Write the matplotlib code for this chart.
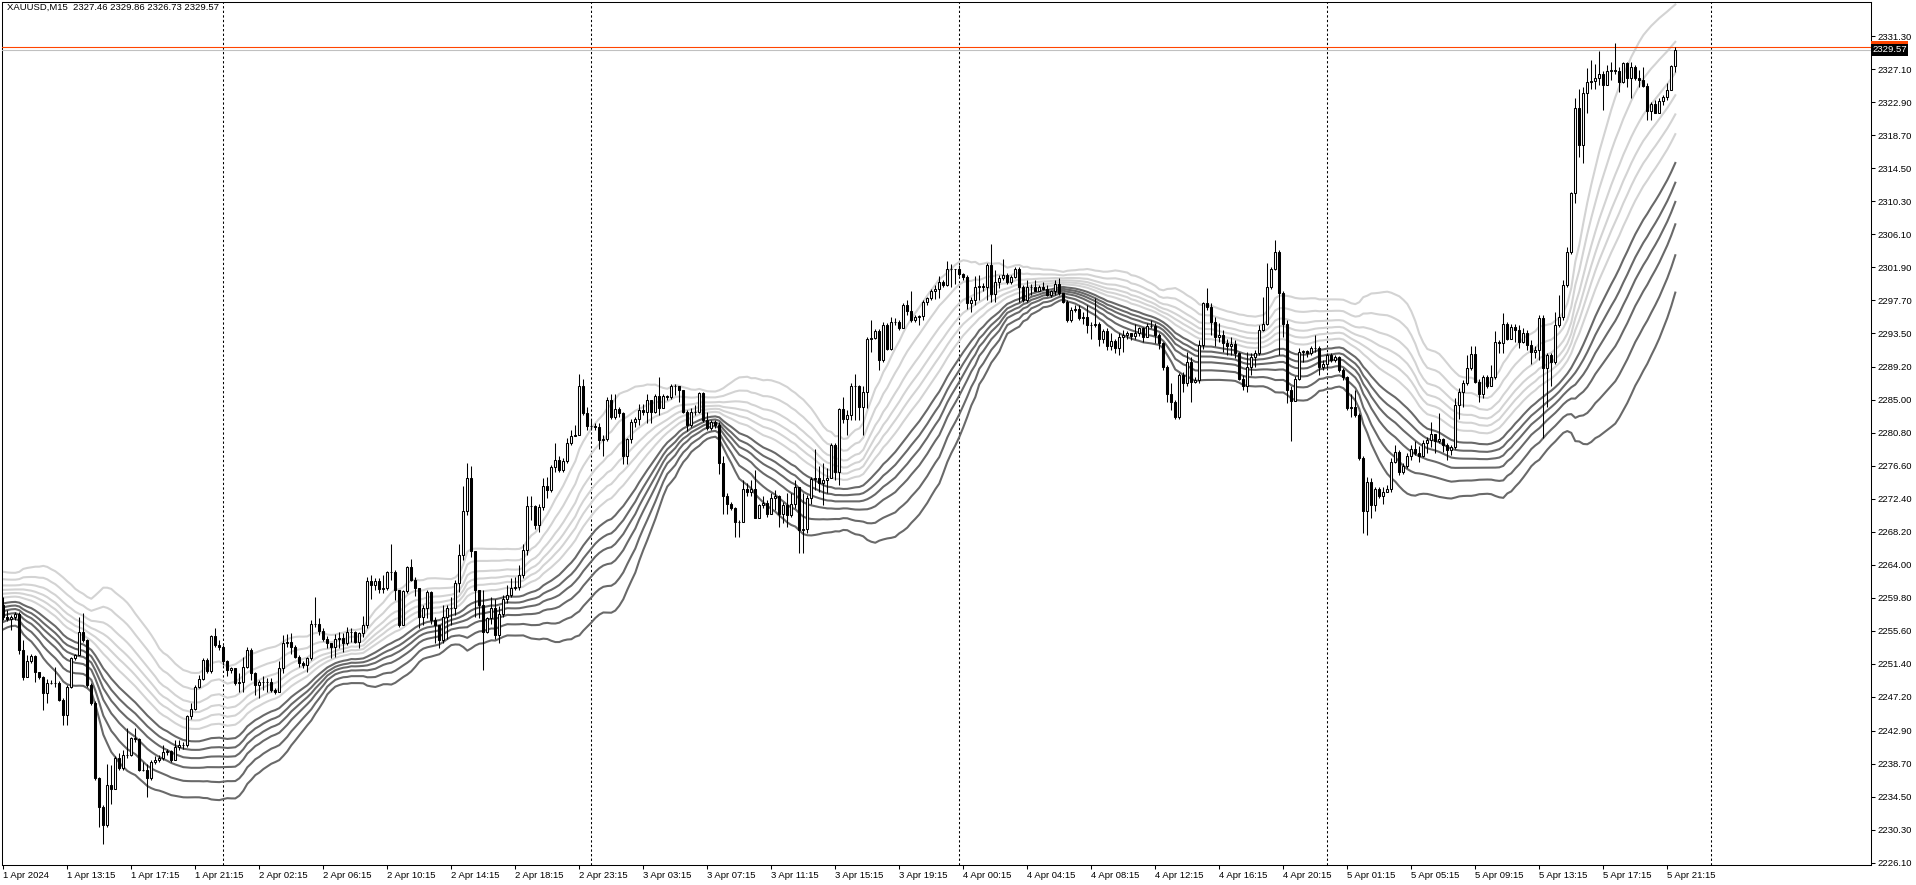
import matplotlib

matplotlib.use("Agg")
import matplotlib.pyplot as plt  # noqa: E402
import matplotlib.transforms as mtrans  # noqa: E402
import numpy as np  # noqa: E402
import pandas as pd  # noqa: E402

plt.rcParams["font.family"] = ["Liberation Sans", "DejaVu Sans"]

TITLE = "XAUUSD,M15  2327.46 2329.86 2326.73 2329.57"

# XAUUSD M15, 1 Apr 09:15 .. 5 Apr 21:45 (one value per bar)
first_open = 2258.9
close = [
    2257.3, 2257.05, 2257.3, 2257.7, 2253.15, 2249.75, 2251.8, 2252.4, 2250.4, 2249.7,
    2247.7, 2248.9, 2249.0, 2249.0, 2246.8, 2244.9, 2248.5, 2252.1, 2252.5, 2255.5,
    2254.4, 2248.7, 2246.4, 2236.8, 2233.2, 2230.9, 2236.0, 2235.5, 2239.4, 2238.1,
    2239.8, 2239.8, 2241.9, 2241.8, 2237.9, 2237.9, 2236.8, 2238.9, 2239.1, 2239.4,
    2240.2, 2240.3, 2239.1, 2240.8, 2241.1, 2241.1, 2244.7, 2245.6, 2248.5, 2249.4,
    2251.9, 2250.5, 2254.9, 2253.8, 2253.6, 2251.7, 2250.6, 2250.8, 2248.9, 2249.1,
    2251.0, 2253.15, 2250.2, 2248.7, 2249.1, 2249.1, 2249.1, 2248.1, 2247.85, 2250.8,
    2254.1, 2254.2, 2253.6, 2252.2, 2251.5, 2251.2, 2252.1, 2256.5, 2256.5, 2255.6,
    2254.5, 2254.0, 2253.5, 2254.6, 2254.7, 2254.1, 2255.4, 2255.5, 2254.2, 2255.3,
    2256.3, 2262.0, 2261.4, 2261.9, 2260.9, 2261.1, 2263.1, 2263.1, 2260.8, 2256.3,
    2260.7, 2263.7, 2262.1, 2261.0, 2257.4, 2258.45, 2260.6, 2257.0, 2256.3, 2254.4,
    2257.4, 2258.45, 2258.45, 2261.7, 2265.3, 2270.8, 2275.1, 2265.7, 2260.8, 2258.9,
    2255.5, 2257.2, 2258.45, 2255.1, 2257.8, 2259.7, 2260.15, 2261.1, 2261.2, 2262.7,
    2265.9, 2271.5, 2271.5, 2269.1, 2271.4, 2274.0, 2273.5, 2276.4, 2277.3, 2276.1,
    2277.2, 2279.45, 2280.4, 2280.5, 2286.75, 2283.3, 2281.7, 2281.7, 2281.5, 2279.9,
    2279.95, 2285.0, 2282.85, 2283.8, 2283.3, 2277.8, 2279.95, 2282.2, 2282.5, 2283.7,
    2283.4, 2285.0, 2283.5, 2285.5, 2284.0, 2285.5, 2285.3, 2286.75, 2286.75, 2286.2,
    2283.5, 2281.8, 2283.5, 2283.5, 2285.9, 2282.4, 2281.4, 2282.2, 2281.8, 2276.9,
    2272.7, 2271.8, 2271.2, 2269.5, 2269.4, 2273.6, 2273.3, 2273.7, 2270.0, 2271.6,
    2271.9, 2270.5, 2272.45, 2272.7, 2270.5, 2271.6, 2270.3, 2271.8, 2273.85, 2268.4,
    2268.6, 2272.45, 2274.9, 2275.0, 2274.45, 2274.8, 2275.0, 2279.2, 2275.85, 2283.8,
    2282.6, 2283.1, 2286.7, 2286.7, 2284.1, 2286.0, 2292.8, 2292.9, 2293.8, 2290.1,
    2294.5, 2291.5, 2294.9, 2294.9, 2294.2, 2297.1, 2296.3, 2295.2, 2295.6, 2295.7,
    2297.5, 2297.9, 2298.9, 2299.05, 2300.0, 2299.6, 2301.6, 2301.6, 2301.6, 2301.0,
    2300.6, 2297.35, 2297.7, 2299.4, 2299.5, 2299.4, 2302.15, 2298.5, 2300.0, 2300.5,
    2300.9, 2300.0, 2300.6, 2301.7, 2299.4, 2297.7, 2299.4, 2299.4, 2298.9, 2299.4,
    2299.1, 2298.3, 2298.8, 2299.8, 2298.6, 2297.5, 2295.15, 2296.4, 2296.6, 2295.4,
    2295.5, 2294.5, 2294.5, 2294.6, 2292.8, 2293.7, 2291.8, 2292.5, 2291.55, 2292.95,
    2293.2, 2293.45, 2293.1, 2293.5, 2294.1, 2292.95, 2294.4, 2294.4, 2293.2, 2292.2,
    2289.2, 2285.8, 2284.75, 2282.85, 2288.15, 2287.1, 2289.85, 2287.3, 2287.5, 2292.0,
    2297.3, 2296.85, 2294.95, 2292.95, 2293.25, 2292.2, 2291.85, 2292.1, 2291.0, 2287.7,
    2286.7, 2289.2, 2290.5, 2290.9, 2293.9, 2294.7, 2299.3, 2301.7, 2303.85, 2298.55,
    2294.7, 2286.25, 2284.8, 2287.7, 2291.1, 2291.25, 2290.9, 2291.55, 2291.55, 2289.2,
    2289.6, 2290.7, 2290.1, 2290.4, 2288.8, 2287.9, 2283.9, 2284.1, 2283.1, 2277.55,
    2270.8, 2274.6, 2271.6, 2273.7, 2272.7, 2273.3, 2273.6, 2277.1, 2278.4, 2275.85,
    2276.6, 2277.85, 2278.8, 2278.2, 2277.85, 2279.5, 2279.9, 2280.7, 2279.7, 2280.0,
    2279.25, 2278.6, 2279.0, 2284.3, 2286.0, 2287.1, 2289.0, 2290.8, 2287.3, 2285.8,
    2287.9, 2286.7, 2287.9, 2292.4, 2292.2, 2294.7, 2292.8, 2294.3, 2293.9, 2292.4,
    2293.45, 2292.0, 2291.1, 2291.3, 2295.4, 2289.0, 2290.7, 2289.85, 2294.5, 2295.6,
    2299.6, 2303.8, 2311.3, 2322.1, 2317.4, 2324.0, 2325.5, 2325.6, 2326.0, 2326.5,
    2325.1, 2326.8, 2327.0, 2326.8, 2325.5, 2327.9, 2326.0, 2327.4, 2325.9, 2325.7,
    2324.9, 2321.8, 2322.7, 2321.5, 2323.0, 2323.6, 2324.4, 2327.46, 2329.57,
]
high = [
    2259.9, 2258.2, 2257.6, 2258.0, 2258.0, 2254.4, 2252.5, 2252.7, 2252.5, 2250.2,
    2249.8, 2249.5, 2249.3, 2251.0, 2249.2, 2247.0, 2248.7, 2252.3, 2252.7, 2257.3,
    2257.9, 2254.5, 2248.9, 2246.6, 2237.0, 2233.4, 2238.7, 2238.5, 2239.6, 2240.0,
    2240.4, 2243.2, 2242.1, 2243.2, 2241.9, 2238.9, 2238.7, 2239.1, 2239.6, 2239.8,
    2241.1, 2240.6, 2240.4, 2241.7, 2241.7, 2241.5, 2244.9, 2246.4, 2248.7, 2250.0,
    2252.1, 2252.1, 2255.1, 2256.0, 2254.4, 2253.8, 2251.9, 2251.0, 2250.6, 2250.2,
    2252.3, 2253.6, 2253.4, 2250.4, 2249.3, 2249.8, 2249.6, 2249.6, 2248.3, 2251.7,
    2255.1, 2255.2, 2255.3, 2253.8, 2252.5, 2251.7, 2252.3, 2257.0, 2259.9, 2257.2,
    2255.9, 2254.9, 2254.0, 2255.2, 2255.4, 2255.3, 2256.1, 2255.9, 2255.6, 2255.5,
    2257.5, 2262.5, 2262.7, 2262.3, 2262.3, 2262.7, 2263.2, 2266.7, 2263.3, 2260.8,
    2260.8, 2263.8, 2264.7, 2262.5, 2261.0, 2258.9, 2260.8, 2260.7, 2257.4, 2256.3,
    2258.9, 2258.9, 2259.9, 2262.1, 2266.7, 2274.0, 2276.9, 2276.6, 2265.5, 2260.8,
    2260.8, 2257.4, 2259.9, 2259.7, 2258.7, 2260.15, 2261.4, 2262.3, 2262.5, 2264.0,
    2266.7, 2272.7, 2272.7, 2271.6, 2271.8, 2275.0, 2275.2, 2276.7, 2279.45, 2277.8,
    2277.55, 2280.1, 2281.15, 2281.8, 2288.3, 2287.7, 2284.1, 2282.6, 2282.0, 2282.0,
    2280.5, 2285.4, 2285.8, 2285.8, 2284.1, 2283.5, 2280.2, 2282.6, 2282.85, 2284.5,
    2284.5, 2285.8, 2284.1, 2285.8, 2287.9, 2285.8, 2285.6, 2287.0, 2287.0, 2286.5,
    2286.25, 2283.7, 2283.9, 2284.3, 2286.0, 2286.0, 2283.5, 2282.4, 2282.4, 2282.2,
    2277.8, 2273.1, 2272.0, 2271.4, 2269.7, 2274.8, 2274.4, 2274.8, 2276.1, 2271.8,
    2272.7, 2272.2, 2273.1, 2273.5, 2272.9, 2272.0, 2273.1, 2273.1, 2274.8, 2273.7,
    2273.1, 2272.9, 2275.2, 2278.8, 2276.6, 2276.9, 2276.3, 2279.45, 2279.45, 2283.9,
    2285.4, 2283.7, 2287.1, 2288.3, 2286.9, 2286.7, 2293.0, 2295.2, 2294.0, 2294.0,
    2294.9, 2294.8, 2295.6, 2295.4, 2295.2, 2297.3, 2297.7, 2298.8, 2295.8, 2295.8,
    2297.7, 2298.1, 2299.05, 2299.6, 2300.7, 2300.2, 2302.7, 2302.3, 2301.7, 2302.15,
    2301.1, 2300.9, 2298.1, 2300.7, 2300.9, 2299.9, 2302.4, 2304.8, 2301.5, 2300.9,
    2302.9, 2301.1, 2300.9, 2301.9, 2301.9, 2299.6, 2300.3, 2299.8, 2300.2, 2299.6,
    2300.0, 2299.6, 2299.0, 2300.2, 2300.5, 2298.6, 2297.7, 2296.85, 2297.1, 2297.1,
    2296.2, 2297.1, 2294.9, 2297.9, 2294.9, 2294.0, 2294.1, 2293.45, 2292.8, 2293.45,
    2293.9, 2293.7, 2293.45, 2294.7, 2294.3, 2294.3, 2294.8, 2295.15, 2294.8, 2293.45,
    2292.4, 2289.4, 2287.1, 2285.0, 2288.4, 2288.6, 2291.1, 2290.5, 2287.9, 2292.6,
    2297.5, 2299.2, 2297.3, 2295.6, 2294.8, 2293.9, 2292.8, 2293.0, 2292.6, 2291.1,
    2288.15, 2291.1, 2290.9, 2291.3, 2294.5, 2298.1, 2302.4, 2301.9, 2305.3, 2304.1,
    2298.8, 2295.2, 2286.7, 2288.0, 2291.55, 2291.3, 2291.3, 2291.8, 2293.25, 2291.8,
    2290.05, 2290.9, 2290.9, 2290.7, 2290.6, 2289.0, 2288.0, 2285.8, 2286.25, 2283.3,
    2277.8, 2275.2, 2275.0, 2273.9, 2273.9, 2273.9, 2274.15, 2277.55, 2279.25, 2278.6,
    2276.9, 2278.2, 2279.25, 2279.7, 2279.1, 2279.9, 2280.3, 2282.2, 2280.7, 2283.3,
    2280.1, 2279.45, 2279.2, 2285.2, 2286.45, 2287.5, 2290.7, 2291.8, 2291.8, 2287.7,
    2288.15, 2288.15, 2289.4, 2293.7, 2292.6, 2296.0, 2294.9, 2294.7, 2294.7, 2294.5,
    2294.1, 2293.9, 2292.6, 2291.8, 2295.8, 2295.8, 2290.9, 2290.9, 2296.2, 2298.3,
    2300.2, 2304.5, 2311.5, 2323.4, 2324.6, 2324.85, 2327.2, 2328.2, 2327.8, 2329.4,
    2326.8, 2327.6, 2328.0, 2330.4, 2327.4, 2328.0, 2328.0, 2328.0, 2327.6, 2327.0,
    2327.4, 2325.3, 2322.9, 2323.15, 2323.4, 2323.8, 2325.3, 2327.6, 2329.86,
]
low = [
    2257.0, 2256.8, 2255.7, 2257.0, 2252.7, 2249.3, 2249.7, 2251.5, 2249.1, 2249.4,
    2245.5, 2246.4, 2248.8, 2248.5, 2246.6, 2243.6, 2243.6, 2248.3, 2251.9, 2252.5,
    2254.2, 2248.5, 2246.1, 2236.6, 2230.6, 2228.5, 2230.6, 2233.6, 2235.5, 2237.9,
    2237.9, 2239.4, 2239.6, 2241.5, 2237.7, 2237.7, 2234.5, 2236.6, 2238.7, 2238.9,
    2239.1, 2239.8, 2238.9, 2239.1, 2240.4, 2240.6, 2240.8, 2244.4, 2245.5, 2248.3,
    2249.3, 2250.2, 2250.2, 2253.6, 2253.2, 2251.2, 2249.8, 2250.2, 2248.7, 2247.8,
    2247.85, 2250.8, 2249.3, 2247.4, 2247.0, 2248.1, 2247.85, 2247.85, 2247.6, 2247.85,
    2250.2, 2253.6, 2252.7, 2252.1, 2251.0, 2250.8, 2250.4, 2251.9, 2256.1, 2255.1,
    2254.3, 2253.4, 2252.1, 2252.3, 2253.4, 2252.9, 2253.8, 2254.2, 2254.0, 2253.4,
    2254.8, 2255.9, 2259.7, 2260.8, 2260.4, 2260.4, 2260.8, 2262.1, 2259.5, 2256.1,
    2256.3, 2260.4, 2261.9, 2260.0, 2255.9, 2256.3, 2257.2, 2256.5, 2254.0, 2253.4,
    2254.0, 2254.6, 2256.3, 2257.6, 2260.6, 2264.6, 2270.3, 2265.0, 2257.4, 2257.2,
    2250.6, 2255.3, 2256.5, 2254.6, 2254.0, 2257.4, 2259.1, 2259.9, 2260.8, 2260.8,
    2262.3, 2265.2, 2269.7, 2268.6, 2268.2, 2271.0, 2272.5, 2273.3, 2275.8, 2275.8,
    2275.8, 2276.9, 2279.2, 2280.4, 2280.5, 2283.1, 2281.15, 2281.15, 2281.15, 2278.8,
    2277.8, 2279.7, 2282.6, 2282.6, 2282.8, 2276.8, 2276.8, 2279.5, 2281.6, 2281.8,
    2283.1, 2282.0, 2282.0, 2283.3, 2283.1, 2283.9, 2285.0, 2285.1, 2285.6, 2284.75,
    2283.3, 2281.0, 2281.6, 2283.1, 2283.3, 2282.2, 2281.15, 2281.15, 2281.4, 2275.6,
    2270.5, 2270.5, 2271.0, 2267.6, 2267.6, 2269.5, 2272.7, 2272.7, 2269.9, 2269.9,
    2271.2, 2270.1, 2270.5, 2271.0, 2268.8, 2269.3, 2268.8, 2270.1, 2271.2, 2265.5,
    2265.5, 2268.0, 2271.8, 2273.5, 2273.3, 2271.6, 2273.1, 2275.85, 2274.8, 2274.15,
    2282.0, 2280.5, 2282.4, 2282.4, 2282.4, 2280.5, 2283.9, 2291.1, 2292.7, 2288.8,
    2289.85, 2291.3, 2291.3, 2294.5, 2293.9, 2294.1, 2295.8, 2294.9, 2294.9, 2294.5,
    2295.2, 2297.1, 2297.7, 2297.8, 2297.9, 2299.3, 2299.5, 2299.4, 2299.8, 2300.7,
    2300.2, 2296.6, 2296.2, 2297.1, 2297.7, 2298.8, 2297.7, 2297.5, 2297.5, 2299.2,
    2300.2, 2299.8, 2299.8, 2300.5, 2297.5, 2297.5, 2297.5, 2298.3, 2298.8, 2298.8,
    2299.0, 2298.2, 2298.1, 2298.3, 2298.3, 2297.3, 2294.9, 2294.9, 2296.2, 2295.15,
    2294.7, 2293.45, 2292.8, 2294.3, 2291.8, 2292.2, 2291.3, 2291.3, 2290.9, 2290.7,
    2291.1, 2292.8, 2292.6, 2292.8, 2293.1, 2292.4, 2292.95, 2294.1, 2292.2, 2291.5,
    2288.8, 2284.75, 2283.7, 2282.6, 2282.6, 2286.0, 2286.7, 2284.75, 2287.1, 2287.1,
    2291.5, 2296.4, 2293.25, 2291.8, 2292.4, 2291.1, 2290.7, 2290.7, 2290.3, 2287.5,
    2286.25, 2286.0, 2288.15, 2289.2, 2290.7, 2293.7, 2294.5, 2299.1, 2301.5, 2290.7,
    2293.0, 2284.55, 2279.7, 2284.8, 2287.5, 2289.85, 2290.5, 2290.7, 2291.1, 2288.15,
    2288.8, 2289.0, 2289.85, 2289.85, 2288.6, 2287.5, 2283.7, 2282.85, 2282.85, 2277.3,
    2268.0, 2267.8, 2269.9, 2270.8, 2272.45, 2271.8, 2273.3, 2273.3, 2276.9, 2275.4,
    2275.6, 2276.3, 2277.3, 2278.0, 2277.1, 2277.75, 2278.2, 2279.0, 2278.2, 2279.45,
    2278.4, 2277.3, 2278.0, 2278.8, 2282.6, 2284.1, 2286.9, 2288.8, 2287.1, 2284.75,
    2285.2, 2286.45, 2286.7, 2287.7, 2290.9, 2290.9, 2292.6, 2292.8, 2292.4, 2291.55,
    2292.2, 2291.3, 2289.6, 2290.3, 2290.05, 2280.1, 2284.1, 2286.7, 2289.6, 2294.3,
    2295.1, 2299.4, 2303.6, 2310.0, 2315.9, 2315.1, 2321.45, 2324.6, 2324.6, 2325.1,
    2321.9, 2325.1, 2325.7, 2326.5, 2324.2, 2325.3, 2324.85, 2323.4, 2325.7, 2324.85,
    2324.8, 2320.6, 2320.6, 2321.45, 2321.65, 2322.5, 2323.2, 2324.45, 2326.73,
]
# closes before the first visible bar (1 Apr early session), only feed the bands
warmup_close = [
    2254.0, 2255.2, 2256.8, 2255.9, 2257.5, 2259.1, 2258.3, 2260.2, 2261.5, 2260.8,
    2262.4, 2263.9, 2262.7, 2264.8, 2265.3, 2263.6, 2262.1, 2263.0, 2261.4, 2260.0,
    2260.9, 2259.2, 2257.8, 2258.6, 2257.1, 2256.4, 2257.9, 2259.3, 2258.1, 2256.9,
    2257.6, 2258.8, 2259.5, 2258.4, 2257.7,
]

x_labels = [
    "1 Apr 2024", "1 Apr 13:15", "1 Apr 17:15", "1 Apr 21:15", "2 Apr 02:15",
    "2 Apr 06:15", "2 Apr 10:15", "2 Apr 14:15", "2 Apr 18:15", "2 Apr 23:15",
    "3 Apr 03:15", "3 Apr 07:15", "3 Apr 11:15", "3 Apr 15:15", "3 Apr 19:15",
    "4 Apr 00:15", "4 Apr 04:15", "4 Apr 08:15", "4 Apr 12:15", "4 Apr 16:15",
    "4 Apr 20:15", "5 Apr 01:15", "5 Apr 05:15", "5 Apr 09:15", "5 Apr 13:15",
    "5 Apr 17:15", "5 Apr 21:15",
]
y_labels = [
    "2331.30", "2327.10", "2322.90", "2318.70", "2314.50", "2310.30", "2306.10",
    "2301.90", "2297.70", "2293.50", "2289.20", "2285.00", "2280.80", "2276.60",
    "2272.40", "2268.20", "2264.00", "2259.80", "2255.60", "2251.40", "2247.20",
    "2242.90", "2238.70", "2234.50", "2230.30", "2226.10",
]
day_sep_bars = [55, 147, 239, 331, 427]
bid = 2329.57
ask = 2329.87

BAND_PERIOD = 36
BAND_K = [0.135, 0.32, 0.50, 0.71, 1.0, 1.35]

close = np.array(close)
high = np.array(high)
low = np.array(low)
opens = np.concatenate([[first_open], close[:-1]])
high = np.maximum(high, np.maximum(opens, close))
low = np.minimum(low, np.minimum(opens, close))
n = len(close)
x = np.arange(n)

W, H = 1916, 885
fig = plt.figure(figsize=(W / 100, H / 100), dpi=100)
ax = fig.add_axes([2 / W, 20 / H, 1869 / W, 863 / H])
ax.set_xlim(-0.325, -0.325 + 1869 / 4)
ax.set_ylim(2225.79, 2335.63)

# volatility bands around a moving average: light = upper set, dark = lower set
s = pd.Series(np.concatenate([warmup_close, close]))
mid = s.rolling(BAND_PERIOD).mean().to_numpy()[len(warmup_close):]
sd = s.rolling(BAND_PERIOD).std(ddof=0).to_numpy()[len(warmup_close):]
for k in BAND_K:
    ax.plot(x, mid + k * sd, color="#d3d3d3", lw=1.5, zorder=2)
    ax.plot(x, mid - k * sd, color="#696969", lw=1.5, zorder=2)

for b in day_sep_bars:
    ax.axvline(b, color="black", lw=0.75, ls=(0, (2.2, 2.2)), zorder=1)

ax.axhline(ask, color="#ff4500", lw=0.8, zorder=3)
ax.axhline(bid, color="#c0c0c0", lw=0.8, zorder=3)

# candles: white = bull, black = bear
up = close >= opens
ax.vlines(x, low, high, color="black", lw=0.75, zorder=4)
ax.bar(x[up], (close - opens)[up], bottom=opens[up], width=0.5,
       color="white", edgecolor="black", linewidth=0.75, zorder=5)
ax.bar(x[~up], (close - opens)[~up], bottom=opens[~up], width=0.5,
       color="black", edgecolor="black", linewidth=0.75, zorder=5)

ax.set_xticks(np.arange(0, 16 * len(x_labels), 16))
ax.set_xticklabels(x_labels, ha="left")
ax.yaxis.tick_right()
ax.set_yticks([float(v) for v in y_labels])
ax.set_yticklabels(y_labels)
ax.tick_params(axis="both", direction="out", length=3, width=0.75,
               labelsize=6.8, colors="black")
ax.tick_params(axis="x", pad=1.5)
ax.tick_params(axis="y", pad=1.5)
for sp in ax.spines.values():
    sp.set_linewidth(0.75)
    sp.set_color("black")

trans = mtrans.blended_transform_factory(ax.transAxes, ax.transData)
ax.text(1.0 + 1 / 1869, ask, f"{ask:.2f}", transform=trans, ha="left", va="center",
        fontsize=6.8, color="white", clip_on=False, zorder=10,
        bbox=dict(boxstyle="square,pad=0.15", fc="#ff4500", ec="none"))
ax.text(1.0 + 1 / 1869, bid, f"{bid:.2f}", transform=trans, ha="left", va="center",
        fontsize=6.8, color="white", clip_on=False, zorder=11,
        bbox=dict(boxstyle="square,pad=0.15", fc="black", ec="none"))

fig.text(7 / W, 1 - 3 / H, TITLE, ha="left", va="top", fontsize=6.8, color="black")

fig.savefig("out.png", dpi=100)
